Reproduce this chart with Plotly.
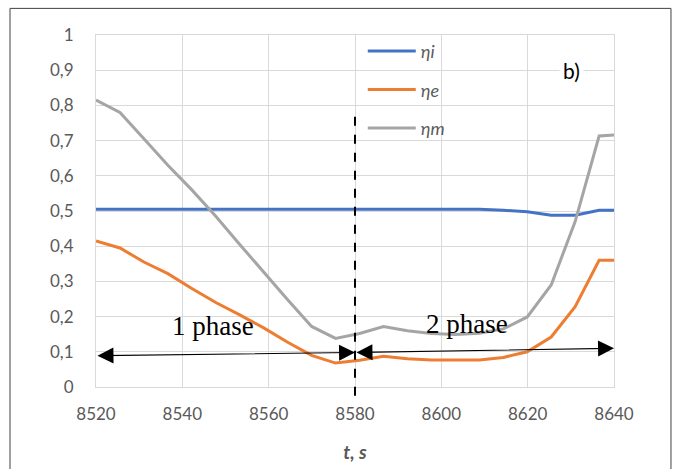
import plotly.graph_objects as go

# ---- data ----
t = [8520, 8525.55, 8531.1, 8536.65, 8542.2, 8547.75, 8553.3, 8558.85, 8564.4,
     8569.95, 8575.5, 8581.05, 8586.6, 8592.15, 8597.7, 8603.25, 8608.8, 8614.35,
     8619.9, 8625.45, 8631.0, 8636.55, 8642.1]
eta_i = [0.505, 0.505, 0.505, 0.505, 0.505, 0.505, 0.505, 0.505, 0.505,
         0.505, 0.505, 0.505, 0.505, 0.505, 0.505, 0.505, 0.505, 0.502,
         0.498, 0.488, 0.488, 0.502, 0.502]
eta_e = [0.415, 0.395, 0.355, 0.322, 0.280, 0.240, 0.205, 0.168, 0.127,
         0.090, 0.068, 0.076, 0.087, 0.080, 0.077, 0.077, 0.077, 0.084,
         0.100, 0.142, 0.228, 0.360, 0.360]
eta_m = [0.815, 0.780, 0.705, 0.630, 0.560, 0.485, 0.405, 0.325, 0.248,
         0.172, 0.138, 0.152, 0.172, 0.160, 0.152, 0.149, 0.153, 0.165,
         0.199, 0.290, 0.470, 0.713, 0.718]
series_names = ["ηi", "ηe", "ηm"]
colors = ["#4472C4", "#ED7D31", "#A5A5A5"]

x_ticks = [8520, 8540, 8560, 8580, 8600, 8620, 8640]
y_ticks = [0, 0.1, 0.2, 0.3, 0.4, 0.5, 0.6, 0.7, 0.8, 0.9, 1]
y_tick_labels = ["0", "0,1", "0,2", "0,3", "0,4", "0,5", "0,6", "0,7", "0,8", "0,9", "1"]

phase_split = 8580
phase1_arrow = [(8520, 0.089), (8580, 0.098)]
phase2_arrow = [(8580, 0.098), (8640, 0.110)]
phase_labels = [("1 phase", 8547, 0.172), ("2 phase", 8606, 0.178)]
x_range = [8520, 8640]
y_range = [0, 1]

grey_text = "#595959"
grid = "#D9D9D9"

fig = go.Figure()
for name, ys, c in zip(series_names, [eta_i, eta_e, eta_m], colors):
    fig.add_trace(go.Scatter(x=t, y=ys, mode="lines", name=name, legendgroup=name,
                             line=dict(color=c, width=3)))

annotations = []
for (x0, y0), (x1, y1) in [phase1_arrow, phase2_arrow]:
    annotations.append(dict(x=x1, y=y1, ax=x0, ay=y0, xref="x", yref="y",
                            axref="x", ayref="y", text="", showarrow=True,
                            arrowhead=2, startarrowhead=2, arrowside="end+start",
                            arrowsize=2.9, startarrowsize=2.9, arrowwidth=1.1,
                            arrowcolor="black", standoff=0, startstandoff=0))
for txt, xx, yy in phase_labels:
    annotations.append(dict(x=xx, y=yy, xref="x", yref="y", text=txt, showarrow=False,
                            font=dict(family="Liberation Serif", size=27, color="black")))
annotations.append(dict(x=0.918, y=0.90, xref="paper", yref="paper", text="b)",
                        showarrow=False, bgcolor="white", xanchor="center",
                        yanchor="middle", borderpad=3,
                        font=dict(family="Lato", size=21, color="black")))

split_paper = (phase_split - x_range[0]) / (x_range[1] - x_range[0])
shapes = [
    dict(type="line", xref="paper", yref="paper", x0=split_paper, x1=split_paper,
         y0=-0.025, y1=0.787, line=dict(color="black", width=2, dash="dash")),
    dict(type="path", xref="paper", yref="paper",
         path="M -0.166 -0.4 L -0.166 1.0756 L 1.110 1.0756 L 1.110 -0.4",
         line=dict(color="#404040", width=1)),
]

fig.update_layout(
    width=675, height=469,
    margin=dict(l=96, r=61, t=35, b=82),
    paper_bgcolor="white", plot_bgcolor="white",
    font=dict(family="Lato", color=grey_text),
    showlegend=True,
    legend=dict(x=0.515, y=1.006, xanchor="left", yanchor="top",
                bgcolor="rgba(0,0,0,0)", tracegroupgap=12, itemwidth=48,
                font=dict(size=18, color=grey_text, style="italic")),
    xaxis=dict(range=x_range, tickvals=x_ticks, showgrid=True, gridcolor=grid,
               gridwidth=1, zeroline=False, showline=True, mirror=True,
               linecolor=grid, ticks="", tickfont=dict(size=17, color=grey_text),
               ticklabelstandoff=12, automargin=False,
               title=dict(text="t, s", standoff=22,
                          font=dict(size=19, color=grey_text, style="italic",
                                    weight="bold"))),
    yaxis=dict(range=y_range, tickvals=y_ticks, ticktext=y_tick_labels,
               showgrid=True, gridcolor=grid, gridwidth=1, zeroline=False,
               showline=True, mirror=True, linecolor=grid, ticks="",
               tickfont=dict(size=17, color=grey_text), ticklabelstandoff=18,
               automargin=False),
    annotations=annotations,
    shapes=shapes,
)

fig.write_html("out.html", config={"displayModeBar": False},
               post_script="document.body.style.margin='0';")
